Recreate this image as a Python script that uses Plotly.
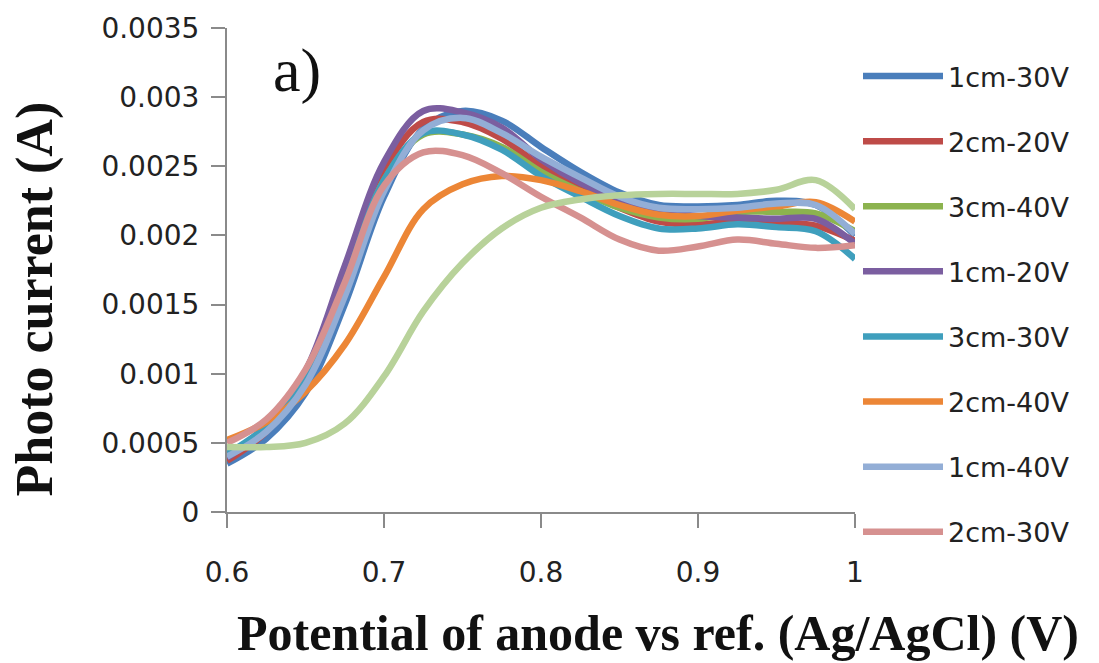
import plotly.graph_objects as go

# Potential of anode vs Ag/AgCl (V)
potential = [0.6, 0.625, 0.65, 0.675, 0.7, 0.725, 0.75, 0.775, 0.8,
             0.825, 0.85, 0.875, 0.9, 0.925, 0.95, 0.975, 1.0]

# Photo current (A) per sample
i_1cm_30v = [0.00035, 0.00053, 0.00086, 0.00150, 0.00228, 0.00277, 0.00290, 0.00283, 0.00264,
             0.00246, 0.00231, 0.00222, 0.00221, 0.00222, 0.00225, 0.00222, 0.00200]
i_2cm_20v = [0.00037, 0.00058, 0.00096, 0.00168, 0.00247, 0.00282, 0.00282, 0.00270, 0.00250,
             0.00234, 0.00220, 0.00210, 0.00208, 0.00210, 0.00209, 0.00207, 0.00196]
i_3cm_40v = [0.00041, 0.00061, 0.00096, 0.00165, 0.00240, 0.00273, 0.00273, 0.00264, 0.00246,
             0.00232, 0.00220, 0.00213, 0.00212, 0.00217, 0.00217, 0.00216, 0.00203]
i_1cm_20v = [0.00039, 0.00062, 0.00102, 0.00178, 0.00253, 0.00290, 0.00289, 0.00278, 0.00255,
             0.00238, 0.00226, 0.00218, 0.00214, 0.00213, 0.00212, 0.00212, 0.00194]
i_3cm_30v = [0.00042, 0.00062, 0.00097, 0.00165, 0.00240, 0.00274, 0.00273, 0.00262, 0.00243,
             0.00228, 0.00214, 0.00205, 0.00205, 0.00208, 0.00206, 0.00203, 0.00183]
i_2cm_40v = [0.00052, 0.00065, 0.00087, 0.00121, 0.00170, 0.00219, 0.00237, 0.00243, 0.00240,
             0.00232, 0.00222, 0.00215, 0.00214, 0.00218, 0.00221, 0.00224, 0.00210]
i_1cm_40v = [0.00040, 0.00058, 0.00092, 0.00156, 0.00232, 0.00276, 0.00285, 0.00274, 0.00257,
             0.00242, 0.00228, 0.00220, 0.00219, 0.00220, 0.00223, 0.00222, 0.00201]
i_2cm_30v = [0.00050, 0.00067, 0.00103, 0.00166, 0.00236, 0.00260, 0.00258, 0.00245, 0.00228,
             0.00213, 0.00197, 0.00189, 0.00192, 0.00197, 0.00194, 0.00191, 0.00193]
i_3cm_20v = [0.00047, 0.00047, 0.00050, 0.00064, 0.00098, 0.00145, 0.00180, 0.00205, 0.00220,
             0.00226, 0.00229, 0.00230, 0.00230, 0.00230, 0.00233, 0.00240, 0.00219]

series = [
    ("1cm-30V", i_1cm_30v, "#4a7ebb", True),
    ("2cm-20V", i_2cm_20v, "#be4b48", True),
    ("3cm-40V", i_3cm_40v, "#8cb34f", True),
    ("1cm-20V", i_1cm_20v, "#7b5ea0", True),
    ("3cm-30V", i_3cm_30v, "#3f9fbd", True),
    ("2cm-40V", i_2cm_40v, "#ec8636", True),
    ("1cm-40V", i_1cm_40v, "#93aed6", True),
    ("2cm-30V", i_2cm_30v, "#d69190", True),
    ("3cm-20V", i_3cm_20v, "#b8d29a", False),
]

y_ticks = [0, 0.0005, 0.001, 0.0015, 0.002, 0.0025, 0.003, 0.0035]
y_tick_text = ["0", "0.0005", "0.001", "0.0015", "0.002", "0.0025", "0.003", "0.0035"]
x_ticks = [0.6, 0.7, 0.8, 0.9, 1.0]
x_tick_text = ["0.6", "0.7", "0.8", "0.9", "1"]

fig = go.Figure()
for name, vals, color, in_legend in series:
    fig.add_trace(go.Scatter(
        x=potential, y=vals, name=name, mode="lines",
        line=dict(color=color, width=6.5, shape="spline", smoothing=1.0),
        legendgroup=name, showlegend=in_legend,
    ))

tick_font = dict(family="DejaVu Sans", size=28, color="#222222")
axis_color = "#8a8a8a"

fig.update_layout(
    width=1099, height=663,
    margin=dict(l=227, r=244, t=28, b=151, autoexpand=False),
    paper_bgcolor="white", plot_bgcolor="white",
    showlegend=True,
    legend=dict(
        xref="container", yref="container",
        x=858 / 1099, y=1 - 52 / 663, xanchor="left", yanchor="top",
        font=dict(family="DejaVu Sans", size=27, color="#222222"),
        itemwidth=80, tracegroupgap=27, bgcolor="rgba(0,0,0,0)",
        maxheight=660,
    ),
    xaxis=dict(
        range=[0.6, 1.0], tickvals=x_ticks, ticktext=x_tick_text,
        showgrid=False, zeroline=False, showline=True, linecolor=axis_color, linewidth=2,
        ticks="outside", ticklen=14, tickwidth=2, tickcolor=axis_color,
        tickfont=tick_font, ticklabelstandoff=20,
    ),
    yaxis=dict(
        range=[0, 0.0035], tickvals=y_ticks, ticktext=y_tick_text,
        showgrid=False, zeroline=False, showline=True, linecolor=axis_color, linewidth=2,
        ticks="outside", ticklen=14, tickwidth=2, tickcolor=axis_color,
        tickfont=tick_font, ticklabelstandoff=6,
    ),
    annotations=[
        dict(text="<b>Photo current (A)</b>", xref="paper", yref="paper",
             x=(35 - 227) / 628, y=(512.5 - 300) / 484, xanchor="center", yanchor="middle",
             textangle=-90, showarrow=False,
             font=dict(family="Liberation Serif", size=52, color="#111111")),
        dict(text="<b>Potential of anode vs ref. (Ag/AgCl) (V)</b>", xref="paper", yref="paper",
             x=(658 - 227) / 628, y=(512.5 - 633) / 484, xanchor="center", yanchor="middle",
             showarrow=False,
             font=dict(family="Liberation Serif", size=50, color="#111111")),
        dict(text="a)", xref="paper", yref="paper",
             x=(297 - 227) / 628, y=(512.5 - 71) / 484, xanchor="center", yanchor="middle",
             showarrow=False,
             font=dict(family="Liberation Serif", size=62, color="#111111")),
    ],
)

fig.write_html("out.html")
